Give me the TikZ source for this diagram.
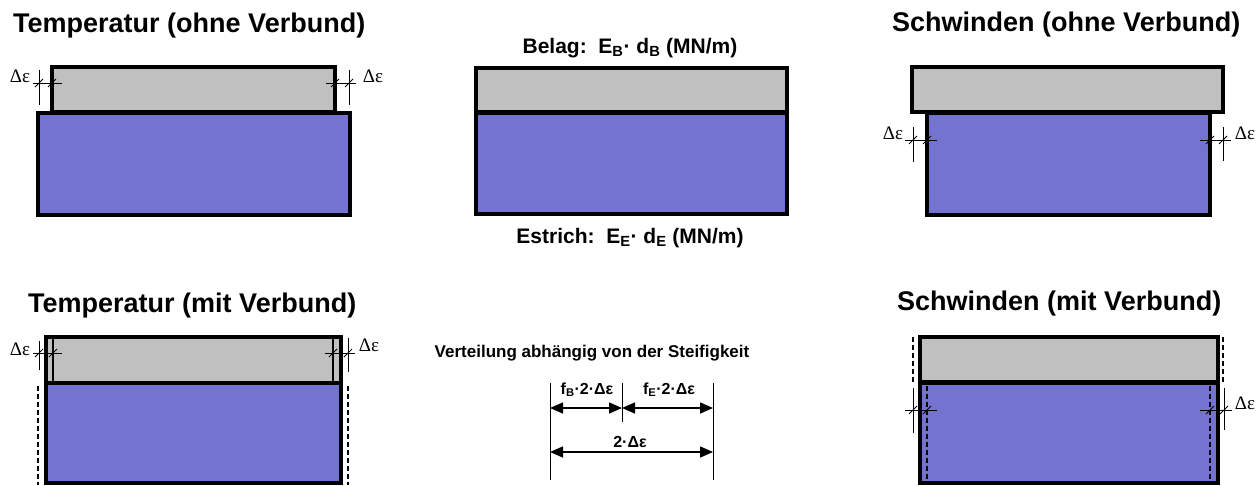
\documentclass[tikz,border=0pt]{standalone}
\usepackage{fontspec}
\setmainfont{Liberation Sans}
\newfontfamily\deltafont{Liberation Serif}
\usetikzlibrary{arrows.meta}
\definecolor{belag}{RGB}{192,192,192}
\definecolor{estrich}{RGB}{117,115,208}
\begin{document}
\begin{tikzpicture}[x=1pt,y=-1pt,
  layerB/.style={fill=belag,draw=black,line width=3.2pt},
  layerE/.style={fill=estrich,draw=black,line width=3.2pt},
  dimline/.style={draw=black,line width=1pt},
  innerline/.style={draw=black,line width=1.3pt},
  ghost/.style={draw=black,line width=1.5pt,dash pattern=on 5pt off 3pt},
  title/.style={font=\bfseries\fontsize{27}{30}\selectfont,anchor=base west,inner sep=0},
  label/.style={font=\bfseries\fontsize{21}{23}\selectfont,anchor=base,inner sep=0},
  sublabel/.style={font=\bfseries\fontsize{17}{19}\selectfont,anchor=base,inner sep=0},
  dimtext/.style={font=\bfseries\fontsize{16}{18}\selectfont,anchor=base,inner sep=0},
  delta/.style={font=\deltafont\fontsize{19}{21}\selectfont,inner sep=0},
  dimarrow/.style={line width=1.6pt,{Triangle[length=13pt,width=11pt]}-{Triangle[length=13pt,width=11pt]}},
  slashtick/.pic={\draw[line width=1pt] (-4,4) -- (4,-4);}
]
\useasboundingbox (0,0) rectangle (1258,485);

% titles
\node[title] (t1) at (13,32) {Temperatur (ohne Verbund)};
\node[title] (t2) at (892,31) {Schwinden (ohne Verbund)};
\node[title] (t3) at (28,312) {Temperatur (mit Verbund)};
\node[title] (t4) at (897,310) {Schwinden (mit Verbund)};

% ---- panel 1: Temperatur ohne Verbund
\draw[layerE] (38,113) rectangle (350,215);
\draw[layerB] (52,67) rectangle (335,112);
\draw[dimline] (39,70) -- (39,105);
\draw[dimline] (33,83) -- (62,83);
\pic at (39,83) {slashtick};
\pic at (52,83) {slashtick};
\node[delta] (d1) at (20,76) {Δε};
\draw[dimline] (349,70) -- (349,105);
\draw[dimline] (326,83) -- (356,83);
\pic at (335,83) {slashtick};
\pic at (349,83) {slashtick};
\node[delta] (d2) at (373,76) {Δε};

% ---- panel 2: centre
\draw[layerE] (476,113) rectangle (787,214);
\draw[layerB] (476,68) rectangle (787,112);
\node[label] (belag) at (630,53) {Belag:\ \ E\textsubscript{B}· d\textsubscript{B} (MN/m)};
\node[label] (estrich) at (630,243) {Estrich:\ \ E\textsubscript{E}· d\textsubscript{E} (MN/m)};

% ---- panel 3: Schwinden ohne Verbund
\draw[layerE] (927,113) rectangle (1210,215);
\draw[layerB] (912,67) rectangle (1223,112);
\draw[dimline] (913,127) -- (913,162);
\draw[dimline] (905,140) -- (937,140);
\pic at (913,140) {slashtick};
\pic at (927,140) {slashtick};
\node[delta] (d3) at (893,133) {Δε};
\draw[dimline] (1223,127) -- (1223,161);
\draw[dimline] (1200,140) -- (1231,140);
\pic at (1210,140) {slashtick};
\pic at (1223,140) {slashtick};
\node[delta] (d4) at (1245,133) {Δε};

% ---- panel 4: Temperatur mit Verbund
\draw[layerE] (46,383) rectangle (341,483);
\draw[layerB] (46,337) rectangle (341,383);
\draw[innerline] (53,339) -- (53,381);
\draw[innerline] (333,339) -- (333,381);
\draw[ghost] (38,386) -- (38,485);
\draw[ghost] (348,386) -- (348,485);
\draw[dimline] (39,341) -- (39,370);
\draw[dimline] (33,353) -- (62,353);
\pic at (39,353) {slashtick};
\pic at (53,353) {slashtick};
\node[delta] (d5) at (20,349) {Δε};
\draw[dimline] (348,338) -- (348,372);
\draw[dimline] (325,353) -- (355,353);
\pic at (333,353) {slashtick};
\pic at (348,353) {slashtick};
\node[delta] (d6) at (369,345) {Δε};

% ---- panel 5: Schwinden mit Verbund
\draw[layerE] (920,383) rectangle (1218,483);
\draw[layerB] (920,337) rectangle (1218,382);
\draw[ghost] (913,337) -- (913,382);
\draw[ghost] (1223,337) -- (1223,382);
\draw[ghost] (927,386) -- (927,485);
\draw[ghost] (1210,386) -- (1210,485);
\draw[dimline] (913,388) -- (913,433);
\draw[dimline] (905,410) -- (937,410);
\pic at (913,410) {slashtick};
\pic at (927,410) {slashtick};
\draw[dimline] (1224,388) -- (1224,430);
\draw[dimline] (1200,410) -- (1232,410);
\pic at (1210,410) {slashtick};
\pic at (1224,410) {slashtick};
\node[delta] (d7) at (1245,403) {Δε};

% ---- centre bottom: distribution
\node[sublabel] (vt) at (592,357) {Verteilung abhängig von der Steifigkeit};
\coordinate (l1) at (550,383);
\coordinate (l2) at (550,480);
\coordinate (m1) at (622,383);
\coordinate (m2) at (622,422);
\coordinate (r1) at (713,383);
\coordinate (r2) at (713,480);
\draw[dimline] (l1) -- (l2);
\draw[dimline] (m1) -- (m2);
\draw[dimline] (r1) -- (r2);
\coordinate (a1) at (550,408);
\coordinate (a2) at (622,408);
\coordinate (a3) at (713,408);
\coordinate (b1) at (550,452);
\coordinate (b2) at (713,452);
\draw[dimarrow] (a1) -- (a2);
\draw[dimarrow] (a2) -- (a3);
\draw[dimarrow] (b1) -- (b2);
\node[dimtext] (fb) at (587,394) {f\textsubscript{B}·2·Δε};
\node[dimtext] (fe) at (669,394) {f\textsubscript{E}·2·Δε};
\node[dimtext] (tw) at (630,447) {2·Δε};
\end{tikzpicture}
\end{document}
